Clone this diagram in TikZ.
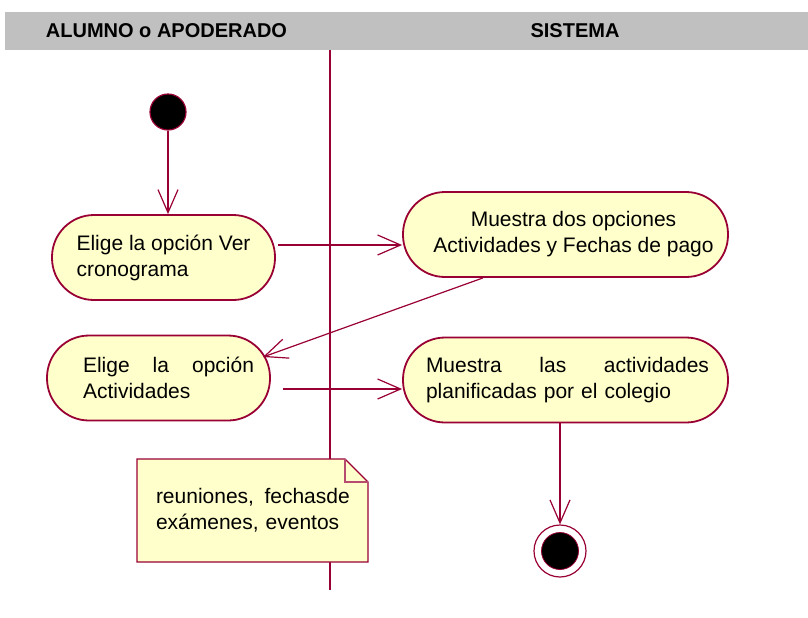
\documentclass[tikz,border=0pt]{standalone}
\usepackage{fontspec}
\setmainfont{Liberation Sans}
\usetikzlibrary{arrows.meta}
\definecolor{umlred}{RGB}{153,0,51}
\definecolor{umlfill}{RGB}{255,255,204}
\definecolor{lanegray}{RGB}{192,192,192}
\tikzset{
  action/.style={draw=umlred, line width=0.9pt, fill=umlfill, rounded corners=21pt,
    minimum height=42.5pt, inner sep=0pt, font=\fontsize{10.5}{13}\selectfont},
  flow/.style={umlred, line width=0.6pt, -{Straight Barb[length=11.5pt,width=10pt]}},
  lanehead/.style={font=\fontsize{10}{12}\selectfont\bfseries},
  startdot/.style={circle, fill=black, draw=umlred, line width=0.6pt, minimum size=18pt, inner sep=0pt},
  endring/.style={circle, fill=white, draw=umlred, line width=0.6pt, minimum size=26pt, inner sep=0pt},
  enddot/.style={circle, fill=black, draw=umlred, line width=0.4pt, minimum size=18.5pt, inner sep=0pt},
  notetext/.style={text width=97pt, align=left, inner sep=0pt, font=\fontsize{10.5}{13}\selectfont}
}
\begin{document}
\begin{tikzpicture}[x=0.5pt,y=-0.5pt]
\useasboundingbox (0,0) rectangle (808,617);
\fill[lanegray] (5,12) rectangle (808,50);
\node[lanehead] (lane1) at (166.5,31) {ALUMNO o APODERADO};
\node[lanehead] (lane2) at (575,31) {SISTEMA};
\draw[umlred, line width=0.8pt] (330,50) -- (330,590);

\node[startdot] (start) at (168,112) {};
\node[action, minimum width=111.5pt, align=left] (act1) at (163.5,257.5)
  {Elige la opción Ver\\cronograma};
\node[action, minimum width=162.5pt, align=center] (act2) at (565.5,234.5)
  {\hspace*{8pt}Muestra dos opciones\\\hspace*{8pt}Actividades y Fechas de pago};
\node[action, minimum width=111.5pt, text width=75.5pt, align=left] (act3) at (158.5,378)
  {\makebox[85.5pt][l]{Elige\hfill la\hfill opción}\\Actividades};
\node[action, minimum width=162.5pt, text width=143.5pt, align=left] (act4) at (565.5,380)
  {\hspace*{2pt}\makebox[141.5pt][l]{Muestra\hfill las\hfill actividades}\\\hspace*{2pt}planificadas por el colegio};

\filldraw[draw=umlred, fill=umlfill, line width=0.7pt] (137,459) -- (345,459) -- (368,482) -- (368,562) -- (137,562) -- cycle;
\draw[umlred!70, line width=0.6pt] (345,459) -- (345,482) -- (368,482);
\node[notetext] (note) at (253,510) {reuniones,\, fechasde\\exámenes, eventos};

\node[endring] (stop) at (560,551) {};
\node[enddot] (stopdot) at (stop) {};

\draw[flow] (start) -- (start |- act1.north);
\coordinate (a1out) at ([xshift=1pt,yshift=6.25pt]act1.east);
\draw[flow] (a1out) -- (a1out -| act2.west);
\draw[flow] ([xshift=-41.25pt]act2.south) -- ([xshift=52.25pt,yshift=10.5pt]act3.center);
\coordinate (a3out) at ([xshift=6pt,yshift=-5.5pt]act3.east);
\draw[flow] (a3out) -- (a3out -| act4.west);
\draw[flow] (stop |- act4.south) -- (stop.north);
\end{tikzpicture}
\end{document}
